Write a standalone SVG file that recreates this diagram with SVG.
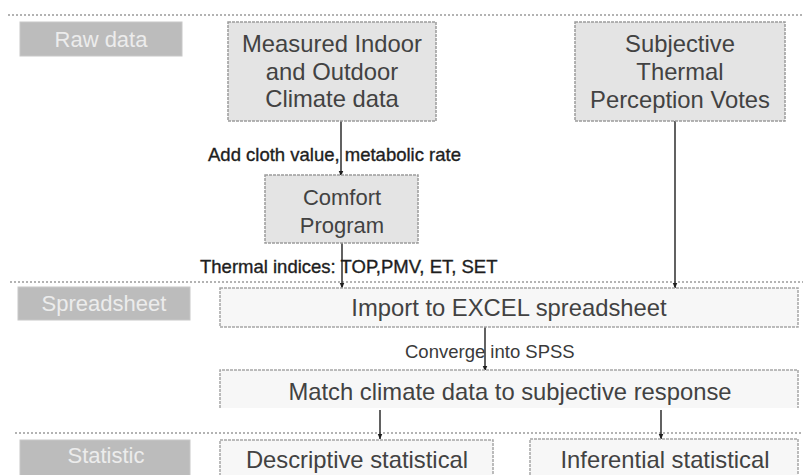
<svg xmlns="http://www.w3.org/2000/svg" width="803" height="475" viewBox="0 0 803 475">
<defs>
<style>
.sep{stroke:#9a9a9a;stroke-width:1.5;stroke-dasharray:2 2;fill:none}
.sec{fill:#bcbcbc;stroke:#c8c8c8;stroke-width:1}
.sect{font-family:"Liberation Sans",Arial,sans-serif;font-size:22px;fill:#ececec;text-anchor:middle}
.box1{fill:#e4e4e4;stroke:#9c9c9c;stroke-width:1.5;stroke-dasharray:3 1}
.box2{fill:#f7f7f7;stroke:#a6a6a6;stroke-width:1.5;stroke-dasharray:3 1}
.bt{font-family:"Liberation Sans",Arial,sans-serif;font-size:23.8px;fill:#424242;text-anchor:middle}
.lbl{font-family:"Liberation Sans",Arial,sans-serif;font-size:18.5px;fill:#1e1e1e;stroke:#1e1e1e;stroke-width:0.35}
.con{stroke:#3a3a3a;stroke-width:1.6;fill:none;marker-end:url(#ah)}
</style>
<marker id="ah" viewBox="0 0 10 10" refX="9" refY="5" markerWidth="6" markerHeight="6" orient="auto" markerUnits="userSpaceOnUse">
<path d="M0,1 L10,5 L0,9 z" fill="#1e1e1e"/>
</marker>
</defs>
<rect width="803" height="475" fill="#ffffff"/>

<g id="separators">
<line class="sep" x1="8" y1="15" x2="803" y2="15"/>
<line class="sep" x1="10" y1="282" x2="803" y2="282"/>
<line class="sep" x1="15" y1="433" x2="803" y2="433"/>
</g>

<g id="sec-raw"><rect class="sec" x="20" y="22" width="162" height="34"/><text class="sect" x="101" y="47">Raw data</text></g>
<g id="sec-spreadsheet"><rect class="sec" x="18" y="287" width="172" height="33"/><text class="sect" x="104" y="311">Spreadsheet</text></g>
<g id="sec-statistic"><rect class="sec" x="20" y="440" width="170" height="40"/><text class="sect" x="106" y="463">Statistic</text></g>

<g id="connectors">
<line class="con" x1="341" y1="121" x2="341" y2="176"/>
<line class="con" x1="675" y1="121" x2="675" y2="288"/>
<line class="con" x1="342" y1="243" x2="342" y2="288"/>
<line class="con" x1="485" y1="327" x2="485" y2="371"/>
<line class="con" x1="380" y1="410" x2="380" y2="439"/>
<line class="con" x1="661" y1="410" x2="661" y2="439"/>
</g>

<g id="n-measured"><rect class="box1" x="228" y="22" width="208" height="99"/>
<text class="bt" x="332" y="52">Measured Indoor</text>
<text class="bt" x="332" y="80">and Outdoor</text>
<text class="bt" x="332" y="107">Climate data</text></g>

<g id="n-subjective"><rect class="box1" x="575" y="22" width="210" height="99"/>
<text class="bt" x="680" y="52">Subjective</text>
<text class="bt" x="680" y="80">Thermal</text>
<text class="bt" x="680" y="108">Perception Votes</text></g>

<g id="n-comfort"><rect class="box1" x="265" y="175" width="153" height="68"/>
<text class="bt" x="342" y="205" style="font-size:22px">Comfort</text>
<text class="bt" x="342" y="233" style="font-size:22px">Program</text></g>

<g id="n-import"><rect class="box2" x="220" y="288" width="578" height="39"/>
<text class="bt" x="509" y="316">Import to EXCEL spreadsheet</text></g>

<g id="n-match"><rect x="220" y="370" width="578" height="38" fill="#f7f7f7"/>
<path class="box2" style="fill:none" d="M220,408 V370 H798 V408"/>
<text class="bt" x="510" y="400">Match climate data to subjective response</text></g>

<g id="n-descriptive"><rect class="box2" x="220" y="440" width="273" height="45"/>
<text class="bt" x="357" y="468">Descriptive statistical</text></g>

<g id="n-inferential"><rect class="box2" x="530" y="439" width="268" height="46"/>
<text class="bt" x="665" y="468">Inferential statistical</text></g>

<g id="labels">
<text class="lbl" x="208" y="161">Add cloth value, metabolic rate</text>
<text class="lbl" x="200" y="273">Thermal indices: TOP,PMV, ET, SET</text>
<text class="lbl" x="405" y="358" style="fill:#3a3a3a;stroke:none">Converge into SPSS</text>
</g>
</svg>
